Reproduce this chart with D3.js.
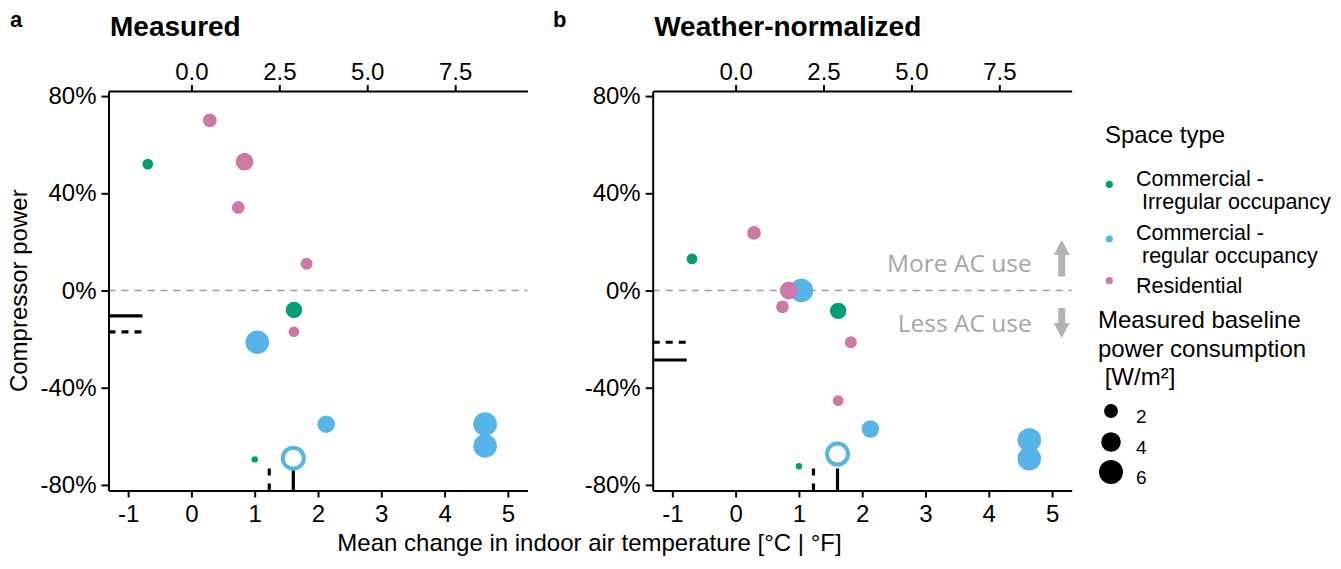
<!DOCTYPE html>
<html>
<head>
<meta charset="utf-8">
<script src="https://cdn.jsdelivr.net/npm/d3@7"></script>
<style>
  html, body { margin: 0; padding: 0; background: #fff; }
  svg { display: block; font-family: "Liberation Sans", Arial, sans-serif; }
</style>
</head>
<body>
<svg id="chart" width="1341" height="569"></svg>
<script>
// ── Data (one entry per building) ─────────────────────────────────────────
const spaceType       = ["irregular", "residential", "residential", "residential", "residential",
                         "irregular", "residential", "regular", "regular", "regular", "regular",
                         "irregular", "regular"];
const tempChange      = [-0.69, 0.29, 0.84, 0.74, 1.82, 1.62, 1.62, 1.04, 2.13, 4.64, 4.64, 1.00, 1.61];
const basePower       = [1.2, 2.0, 3.3, 1.7, 1.5, 2.8, 1.2, 5.8, 3.2, 5.8, 5.8, 0.43, 4.6];
const powerMeasured   = [52, 70, 53, 34.2, 11, -8, -17, -21.3, -55, -55, -64, -69.5, -69];
const powerNormalized = [13, 23.7, 0, -6.7, -21.3, -8.4, -45.3, 0, -57, -61.5, -69.2, -72.3, -67.3];
const hollow          = [false, false, false, false, false, false, false, false, false, false, false, false, true];

// reference marks: [solid, dashed]
const refPowerMeasured   = [-10.4, -17];
const refPowerNormalized = [-28.6, -21.3];
const refTempChange      = [1.61, 1.23];

// ── Ticks and legend ──────────────────────────────────────────────────────
const celsiusTicks    = [-1, 0, 1, 2, 3, 4, 5];
const fahrenheitTicks = [0, 2.5, 5, 7.5];
const powerTicks      = [-80, -40, 0, 40, 80];
const sizeTicks       = [2, 4, 6];
const typeKeys        = ["irregular", "regular", "residential"];
const typeLabels      = [["Commercial -", " Irregular occupancy"],
                         ["Commercial -", " regular occupancy"],
                         ["Residential"]];

const colors = { irregular: "#009E73", regular: "#56B4E9", residential: "#CC79A7" };

// ── Layout ────────────────────────────────────────────────────────────────
const plotTop = 91, plotBottom = 490.5, plotW = 419;
const xDomain = [-1.31, 5.31];
const yDomain = [-82.3, 82.1];
const FONT = "'Liberation Sans', Arial, sans-serif";

const svg = d3.select("#chart");
const r = d3.scaleSqrt().domain([0, 6]).range([0, 12]);

const points = tempChange.map((t, i) => ({
    t, type: spaceType[i], size: basePower[i], hollow: hollow[i],
    measured: powerMeasured[i], normalized: powerNormalized[i]
})).sort((a, b) => b.size - a.size);

const panels = [
    { tag: "a", tagX: 10,  title: "Measured",           left: 108.5, key: "measured",   ref: refPowerMeasured },
    { tag: "b", tagX: 553, title: "Weather-normalized", left: 652.7, key: "normalized", ref: refPowerNormalized }
];

function styleAxis(g) {
    g.attr("font-size", 24).attr("font-family", FONT);
    g.select(".domain").attr("stroke-width", 2);
    g.selectAll(".tick line").attr("stroke-width", 2);
    g.selectAll(".tick text").attr("fill", "#000");
}

panels.forEach(p => {
    const x  = d3.scaleLinear().domain(xDomain).range([p.left, p.left + plotW]);
    const xF = d3.scaleLinear().domain(xDomain.map(c => c * 1.8)).range(x.range());
    const y  = d3.scaleLinear().domain(yDomain).range([plotBottom, plotTop]);
    const g  = svg.append("g");

    // ── Zero line ──────────────────────────────────────────────────────────
    g.append("line")
        .attr("x1", x.range()[0]).attr("x2", x.range()[1])
        .attr("y1", y(0)).attr("y2", y(0))
        .attr("stroke", "#9a9a9a").attr("stroke-width", 1.5)
        .attr("stroke-dasharray", "7,6");

    // ── Axes ───────────────────────────────────────────────────────────────
    g.append("g")
        .attr("transform", `translate(${x.range()[0]},0)`)
        .call(d3.axisLeft(y).tickValues(powerTicks).tickSize(7).tickSizeOuter(0).tickPadding(5)
            .tickFormat(d => d + "%"))
        .call(styleAxis);

    g.append("g")
        .attr("transform", `translate(0,${plotBottom})`)
        .call(d3.axisBottom(x).tickValues(celsiusTicks).tickSize(7).tickSizeOuter(0).tickPadding(7)
            .tickFormat(d => String(d)))
        .call(styleAxis);

    g.append("g")
        .attr("transform", `translate(0,${plotTop})`)
        .call(d3.axisTop(xF).tickValues(fahrenheitTicks).tickSize(6).tickSizeOuter(0).tickPadding(5)
            .tickFormat(d3.format(".1f")))
        .call(styleAxis);

    // ── Reference marks ────────────────────────────────────────────────────
    const hLen = [34, 39], vLen = 22;
    p.ref.forEach((v, i) => {
        g.append("line")
            .attr("x1", x.range()[0]).attr("x2", x.range()[0] + hLen[i])
            .attr("y1", y(v)).attr("y2", y(v))
            .attr("stroke", "#000").attr("stroke-width", 3.2)
            .attr("stroke-dasharray", i ? "7,6" : null);
    });
    refTempChange.forEach((v, i) => {
        g.append("line")
            .attr("x1", x(v)).attr("x2", x(v))
            .attr("y1", plotBottom).attr("y2", plotBottom - vLen)
            .attr("stroke", "#000").attr("stroke-width", 3.2)
            .attr("stroke-dasharray", i ? "7,8" : null);
    });

    // ── Points ─────────────────────────────────────────────────────────────
    g.selectAll("circle.pt")
        .data(points)
        .join("circle")
        .attr("class", "pt")
        .attr("cx", d => x(d.t))
        .attr("cy", d => y(d[p.key]))
        .attr("r",  d => r(d.size))
        .attr("fill",   d => d.hollow ? "#fff" : colors[d.type])
        .attr("stroke", d => d.hollow ? colors[d.type] : "none")
        .attr("stroke-width", d => d.hollow ? 4 : 0);

    // ── Titles ─────────────────────────────────────────────────────────────
    svg.append("text")
        .attr("x", p.tagX).attr("y", 27)
        .attr("font-size", 22).attr("font-weight", "bold")
        .text(p.tag);

    svg.append("text")
        .attr("x", p.left + 1.5).attr("y", 36)
        .attr("font-size", 28).attr("font-weight", "bold")
        .text(p.title);

    // ── AC use annotation (panel b) ────────────────────────────────────────
    if (p.key === "normalized") {
        const right = x.range()[1], y0 = y(0), ax = right - 10;
        const ann = g.append("g")
            .attr("font-family", "'Open Sans', sans-serif")
            .attr("font-size", 24.5).attr("fill", "#a6a6a6")
            .attr("text-anchor", "end");
        ann.append("text").attr("x", right - 40).attr("y", y0 - 19).text("More AC use");
        ann.append("text").attr("x", right - 40).attr("y", y0 + 41).text("Less AC use");

        const arrow = (tip, base, end) =>
            `M${ax},${tip} L${ax + 8},${base} L${ax + 3.5},${base} L${ax + 3.5},${end}
             L${ax - 3.5},${end} L${ax - 3.5},${base} L${ax - 8},${base} Z`;
        g.append("path").attr("d", arrow(y0 - 50.5, y0 - 35.5, y0 - 14)).attr("fill", "#b3b3b3");
        g.append("path").attr("d", arrow(y0 + 47.5, y0 + 32.5, y0 + 17.5)).attr("fill", "#b3b3b3");
    }
});

// ── Axis titles ───────────────────────────────────────────────────────────
svg.append("text")
    .attr("transform", `translate(27,${(plotTop + plotBottom) / 2}) rotate(-90)`)
    .attr("text-anchor", "middle")
    .attr("font-size", 24)
    .text("Compressor power");

svg.append("text")
    .attr("x", 589.5).attr("y", 551)
    .attr("text-anchor", "middle")
    .attr("font-size", 24)
    .text("Mean change in indoor air temperature [°C | °F]");

// ── Legend ────────────────────────────────────────────────────────────────
const lg = svg.append("g");

lg.append("text").attr("x", 1105).attr("y", 143).attr("font-size", 24).text("Space type");

const keyY = [184.3, 239, 280.7];
const lineY = [[186, 209], [239.5, 262.5], [293]];
typeKeys.forEach((k, i) => {
    lg.append("circle").attr("cx", 1109.3).attr("cy", keyY[i]).attr("r", 3.6).attr("fill", colors[k]);
    typeLabels[i].forEach((t, j) => {
        lg.append("text")
            .attr("x", 1136).attr("y", lineY[i][j])
            .attr("font-size", 21.5)
            .style("white-space", "pre")
            .text(t);
    });
});

["Measured baseline", "power consumption", " [W/m²]"].forEach((t, i) => {
    lg.append("text")
        .attr("x", 1098).attr("y", 328 + i * 28.5)
        .attr("font-size", 24)
        .style("white-space", "pre")
        .text(t);
});

const sizeY = [411, 442, 472];
sizeTicks.forEach((v, i) => {
    lg.append("circle").attr("cx", 1111).attr("cy", sizeY[i]).attr("r", r(v)).attr("fill", "#000");
    lg.append("text")
        .attr("x", 1136).attr("y", sizeY[i] + 12)
        .attr("font-size", 19)
        .text(v);
});
</script>
</body>
</html>
